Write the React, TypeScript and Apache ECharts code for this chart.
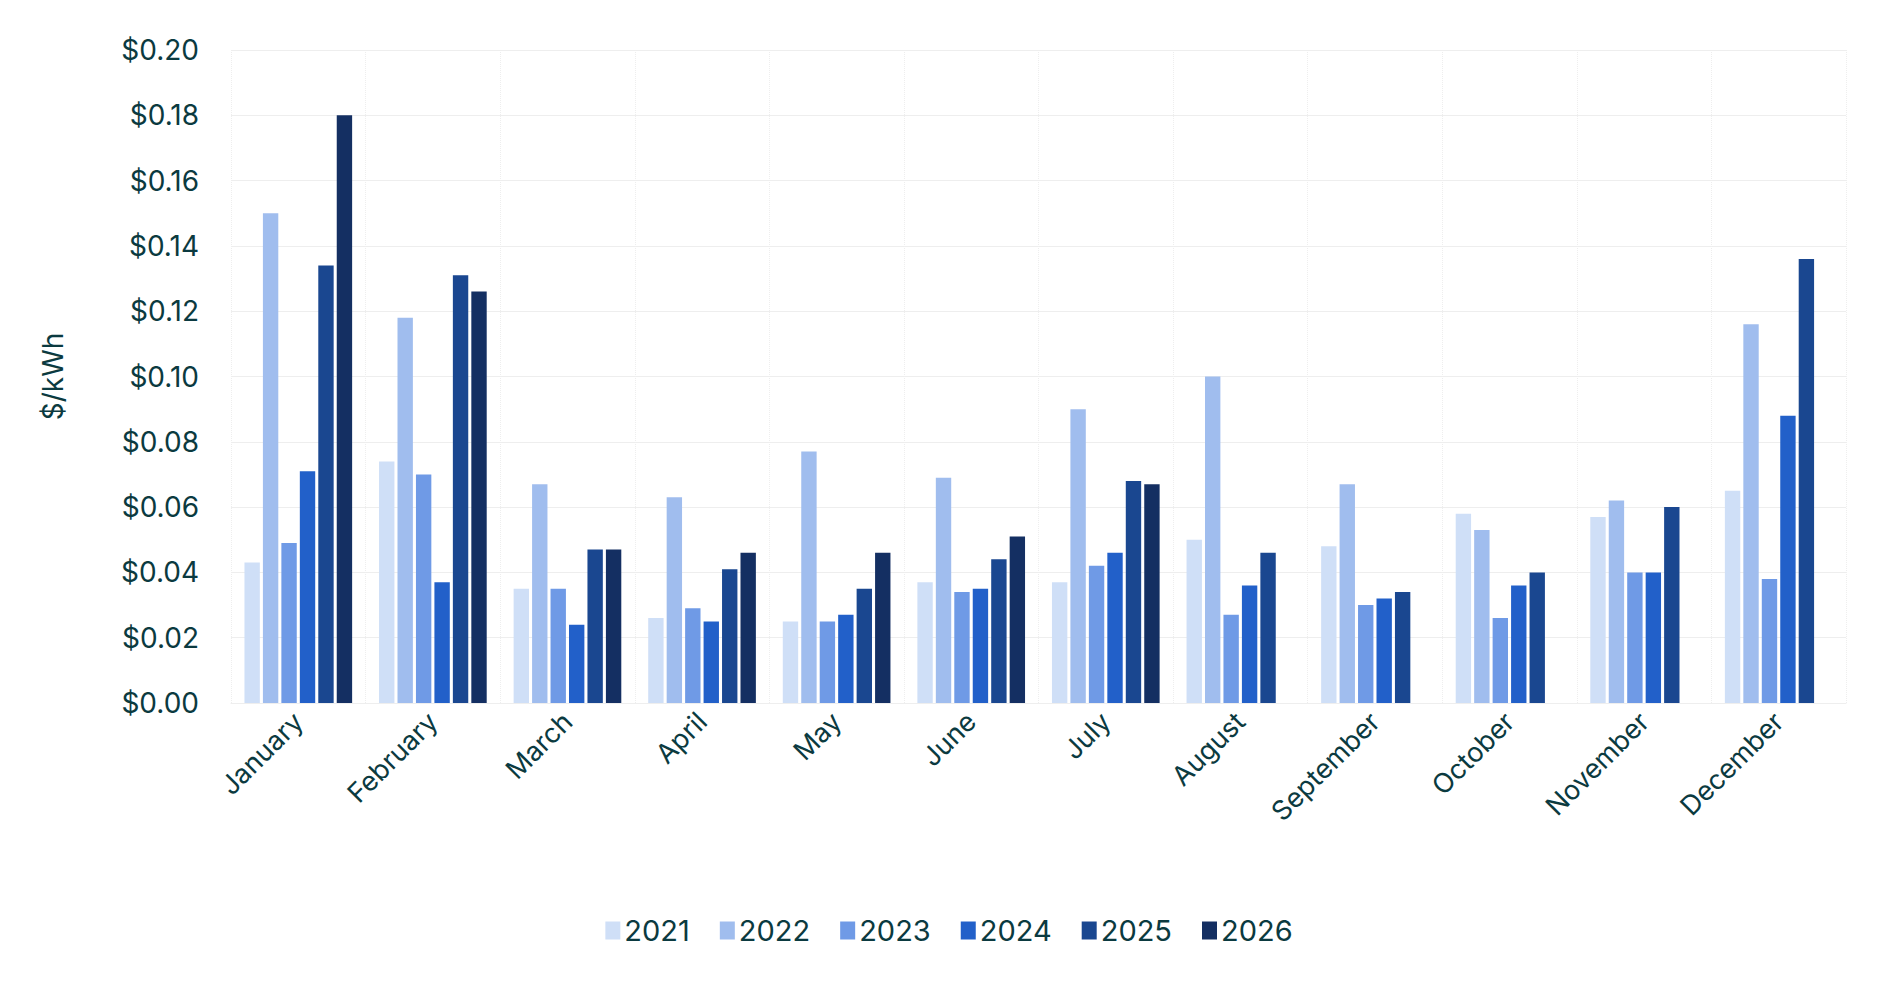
import React, { useRef, useEffect } from 'react';
import * as echarts from 'echarts';

const FONT = 'Inter, "Noto Sans", sans-serif';
const TEXT = '#0b3a40';

const MONTHS = ['January', 'February', 'March', 'April', 'May', 'June', 'July', 'August', 'September', 'October', 'November', 'December'];
const YEARS = ['2021', '2022', '2023', '2024', '2025', '2026'];
const COLORS = ['#cfdff7', '#a0bdee', '#6f9ae6', '#2260c9', '#1a4790', '#142f62'];

const V2021 = [0.043, 0.074, 0.035, 0.026, 0.025, 0.037, 0.037, 0.050, 0.048, 0.058, 0.057, 0.065];
const V2022 = [0.150, 0.118, 0.067, 0.063, 0.077, 0.069, 0.090, 0.100, 0.067, 0.053, 0.062, 0.116];
const V2023 = [0.049, 0.070, 0.035, 0.029, 0.025, 0.034, 0.042, 0.027, 0.030, 0.026, 0.040, 0.038];
const V2024 = [0.071, 0.037, 0.024, 0.025, 0.027, 0.035, 0.046, 0.036, 0.032, 0.036, 0.040, 0.088];
const V2025 = [0.134, 0.131, 0.047, 0.041, 0.035, 0.044, 0.068, 0.046, 0.034, 0.040, 0.060, 0.136];
const V2026 = [0.180, 0.126, 0.047, 0.046, 0.046, 0.051, 0.067, null, null, null, null, null];
const VALUES = [V2021, V2022, V2023, V2024, V2025, V2026];

function getOption(): echarts.EChartsCoreOption {
  return {
    animation: false,
    backgroundColor: '#ffffff',
    grid: { left: 231, right: 52, top: 50, bottom: 287 },
    legend: {
      bottom: 40,
      left: 'center',
      itemWidth: 15,
      itemHeight: 18,
      itemGap: 30,
      icon: 'rect',
      textStyle: { color: TEXT, fontSize: 29, fontFamily: FONT, padding: [0, 0, 0, -1] },
      data: YEARS,
    },
    xAxis: {
      type: 'category',
      data: MONTHS,
      axisLine: { lineStyle: { color: '#eeeeee' } },
      axisTick: { show: false },
      splitLine: { show: true, lineStyle: { color: '#eeeeee', type: 'dotted' } },
      axisLabel: { rotate: 45, color: TEXT, fontSize: 27, fontFamily: FONT, margin: 14, interval: 0 },
    },
    yAxis: {
      type: 'value',
      min: 0,
      max: 0.2,
      interval: 0.02,
      name: '$/kWh',
      nameLocation: 'middle',
      nameGap: 164,
      nameTextStyle: { color: TEXT, fontSize: 28, fontFamily: FONT },
      axisLabel: {
        color: TEXT, fontSize: 28, fontFamily: FONT, margin: 32,
        formatter: (v: number) => '$' + v.toFixed(2),
      },
      splitLine: { lineStyle: { color: '#eeeeee' } },
    },
    series: YEARS.map((y, i) => ({
      name: y,
      type: 'bar',
      data: VALUES[i],
      itemStyle: { color: COLORS[i] },
      barGap: '20%',
      barCategoryGap: '20%',
    })),
  };
}

export default function App() {
  const ref = useRef<HTMLDivElement>(null);
  useEffect(() => {
    if (!ref.current) return;
    const chart = echarts.init(ref.current, undefined, { renderer: 'svg' });
    chart.setOption(getOption());
    return () => chart.dispose();
  }, []);
  return <div ref={ref} style={{ position: 'fixed', left: 0, top: 0, width: 1898, height: 990 }} />;
}
